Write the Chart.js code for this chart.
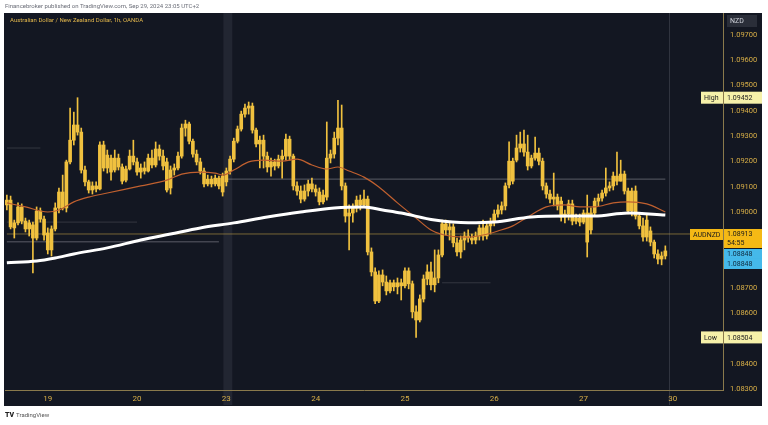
<!DOCTYPE html>
<html><head><meta charset="utf-8">
<script src="https://cdn.jsdelivr.net/npm/chart.js@4.4.0/dist/chart.umd.min.js"></script>
<style>
html,body{margin:0;padding:0;background:#fff;width:768px;height:425px;overflow:hidden;font-family:Roboto,"Liberation Sans",sans-serif}
#wrap{position:relative;width:768px;height:425px}
canvas{position:absolute;left:0;top:0}
#hdr{position:absolute;left:5px;top:2px;font-size:6px;color:#6b6e78;white-space:nowrap;z-index:2}
#ttl{position:absolute;left:10px;top:16px;font-size:6px;color:#e2b74c;white-space:nowrap;z-index:2}
#tv{position:absolute;left:5px;top:411px;font-size:6px;color:#555;white-space:nowrap;z-index:2}
#tv b{font-weight:900;color:#222;margin-right:2px;font-size:7px}
</style></head>
<body><div id="wrap">
<canvas id="c" width="768" height="425"></canvas>
<div id="hdr">Financebroker published on TradingView.com, Sep 29, 2024 23:05 UTC+2</div>
<div id="ttl">Australian Dollar / New Zealand Dollar, 1h, OANDA</div>
<div id="tv"><b>TV</b>TradingView</div>
</div>
<script>
// ---- data (AUDNZD 1h candles) ----
const open = [
1.09028,1.09047,1.08937,1.08957,1.09020,1.08964,1.08933,1.08949,1.08897,1.09004,
1.08972,1.08917,1.08850,1.08933,1.09016,1.09079,1.09016,1.09198,1.09284,1.09344,
1.09316,1.09166,1.09119,1.09087,1.09103,1.09091,1.09265,1.09174,1.09213,1.09166,
1.09213,1.09178,1.09126,1.09170,1.09221,1.09198,1.09158,1.09174,1.09162,1.09213,
1.09186,1.09249,1.09221,1.09198,1.09095,1.09166,1.09174,1.09221,1.09332,1.09348,
1.09280,1.09229,1.09198,1.09162,1.09111,1.09130,1.09111,1.09134,1.09142,1.09119,
1.09162,1.09209,1.09280,1.09328,1.09387,1.09411,1.09419,1.09324,1.09269,1.09284,
1.09221,1.09178,1.09198,1.09182,1.09209,1.09221,1.09288,1.09221,1.09103,1.09083,
1.09051,1.09083,1.09111,1.09091,1.09079,1.09040,1.09059,1.09213,1.09229,1.09292,
1.09332,1.09103,1.08984,1.08996,1.09016,1.09047,1.09028,1.09051,1.08842,1.08763,
1.08648,1.08751,1.08723,1.08688,1.08720,1.08704,1.08720,1.08708,1.08767,1.08716,
1.08605,1.08573,1.08656,1.08735,1.08763,1.08712,1.08739,1.08830,1.08953,1.08929,
1.08941,1.08878,1.08842,1.08889,1.08905,1.08897,1.08889,1.08905,1.08937,1.08905,
1.08945,1.08960,1.08992,1.09008,1.09024,1.09107,1.09201,1.09205,1.09253,1.09269,
1.09237,1.09182,1.09213,1.09233,1.09201,1.09103,1.09071,1.09051,1.09059,1.09043,
1.08980,1.08992,1.09032,1.08964,1.08976,1.08960,1.08996,1.08929,1.08996,1.09043,
1.09055,1.09075,1.09095,1.09103,1.09142,1.09122,1.09150,1.09083,1.09004,1.09083,
1.08984,1.08945,1.08901,1.08925,1.08881,1.08834,1.08814,1.08826];
const high = [
1.09067,1.09063,1.08968,1.09036,1.09032,1.08976,1.08968,1.08960,1.09020,1.09016,
1.08984,1.08937,1.08945,1.09036,1.09095,1.09146,1.09205,1.09411,1.09395,1.09452,
1.09332,1.09182,1.09126,1.09119,1.09119,1.09277,1.09280,1.09245,1.09225,1.09245,
1.09229,1.09190,1.09182,1.09245,1.09284,1.09213,1.09190,1.09198,1.09229,1.09245,
1.09277,1.09265,1.09245,1.09213,1.09182,1.09190,1.09237,1.09348,1.09363,1.09356,
1.09288,1.09245,1.09213,1.09174,1.09146,1.09142,1.09146,1.09142,1.09154,1.09174,
1.09221,1.09292,1.09340,1.09399,1.09427,1.09435,1.09431,1.09332,1.09300,1.09304,
1.09237,1.09213,1.09209,1.09225,1.09245,1.09308,1.09300,1.09229,1.09119,1.09103,
1.09107,1.09126,1.09134,1.09107,1.09095,1.09087,1.09356,1.09245,1.09316,1.09442,
1.09423,1.09115,1.09028,1.09032,1.09063,1.09067,1.09087,1.09063,1.08858,1.08779,
1.08767,1.08771,1.08747,1.08731,1.08731,1.08739,1.08735,1.08779,1.08779,1.08727,
1.08629,1.08672,1.08751,1.08791,1.08802,1.08850,1.08850,1.08968,1.08968,1.08960,
1.08953,1.08897,1.08905,1.08921,1.08929,1.08913,1.08921,1.08949,1.08968,1.08960,
1.08976,1.09008,1.09028,1.09040,1.09115,1.09277,1.09213,1.09304,1.09316,1.09324,
1.09304,1.09225,1.09296,1.09253,1.09213,1.09115,1.09087,1.09154,1.09071,1.09059,
1.09008,1.09047,1.09047,1.08992,1.08992,1.09008,1.09067,1.09016,1.09055,1.09071,
1.09087,1.09174,1.09119,1.09158,1.09237,1.09205,1.09162,1.09095,1.09095,1.09103,
1.08996,1.08976,1.08992,1.08941,1.08889,1.08850,1.08842,1.08866];
const low = [
1.09008,1.08933,1.08897,1.08949,1.08953,1.08921,1.08905,1.08759,1.08889,1.08960,
1.08889,1.08834,1.08826,1.08925,1.08996,1.09008,1.09000,1.09190,1.09265,1.09304,
1.09154,1.09103,1.09075,1.09071,1.09079,1.09087,1.09162,1.09154,1.09126,1.09158,
1.09166,1.09111,1.09119,1.09166,1.09186,1.09146,1.09134,1.09150,1.09158,1.09174,
1.09178,1.09205,1.09166,1.09079,1.09071,1.09146,1.09166,1.09213,1.09300,1.09269,
1.09217,1.09186,1.09150,1.09099,1.09103,1.09099,1.09103,1.09091,1.09063,1.09103,
1.09150,1.09198,1.09273,1.09320,1.09375,1.09387,1.09312,1.09257,1.09174,1.09174,
1.09158,1.09142,1.09166,1.09174,1.09134,1.09205,1.09205,1.09087,1.09067,1.09036,
1.09043,1.09063,1.09079,1.09063,1.09028,1.09032,1.09047,1.09194,1.09213,1.09265,
1.09087,1.08960,1.08850,1.08960,1.09000,1.09008,1.09020,1.08830,1.08747,1.08637,
1.08641,1.08708,1.08672,1.08680,1.08688,1.08676,1.08652,1.08700,1.08696,1.08581,
1.08504,1.08565,1.08644,1.08712,1.08692,1.08684,1.08720,1.08822,1.08909,1.08889,
1.08862,1.08826,1.08818,1.08850,1.08881,1.08874,1.08874,1.08889,1.08889,1.08893,
1.08913,1.08945,1.08980,1.08992,1.09008,1.09095,1.09111,1.09198,1.09237,1.09221,
1.09166,1.09174,1.09205,1.09186,1.09087,1.09055,1.09036,1.09024,1.09008,1.08964,
1.08957,1.08968,1.08949,1.08953,1.08945,1.08953,1.08822,1.08913,1.08984,1.09024,
1.09043,1.09063,1.09083,1.09087,1.09107,1.09122,1.09071,1.08992,1.08984,1.08972,
1.08933,1.08885,1.08885,1.08866,1.08818,1.08795,1.08791,1.08814];
const close = [
1.09047,1.08941,1.08957,1.09020,1.08964,1.08933,1.08957,1.08897,1.09004,1.08972,
1.08909,1.08850,1.08933,1.09016,1.09079,1.09016,1.09198,1.09284,1.09344,1.09316,
1.09166,1.09119,1.09087,1.09103,1.09091,1.09265,1.09174,1.09225,1.09158,1.09213,
1.09178,1.09122,1.09170,1.09221,1.09198,1.09158,1.09174,1.09162,1.09213,1.09186,
1.09249,1.09221,1.09182,1.09087,1.09166,1.09174,1.09221,1.09332,1.09348,1.09280,
1.09229,1.09198,1.09162,1.09111,1.09130,1.09111,1.09134,1.09103,1.09079,1.09162,
1.09209,1.09280,1.09328,1.09387,1.09411,1.09419,1.09324,1.09269,1.09284,1.09221,
1.09178,1.09198,1.09182,1.09209,1.09221,1.09288,1.09221,1.09103,1.09083,1.09051,
1.09083,1.09111,1.09091,1.09079,1.09040,1.09067,1.09213,1.09229,1.09292,1.09332,
1.09103,1.08984,1.08996,1.09016,1.09047,1.09028,1.09051,1.08842,1.08763,1.08648,
1.08751,1.08723,1.08688,1.08720,1.08704,1.08720,1.08708,1.08767,1.08716,1.08605,
1.08573,1.08656,1.08735,1.08763,1.08712,1.08739,1.08830,1.08953,1.08929,1.08941,
1.08878,1.08842,1.08889,1.08905,1.08897,1.08889,1.08905,1.08937,1.08905,1.08945,
1.08960,1.08992,1.09008,1.09024,1.09103,1.09201,1.09122,1.09253,1.09269,1.09237,
1.09182,1.09213,1.09233,1.09201,1.09103,1.09071,1.09051,1.09059,1.09024,1.08980,
1.08992,1.09032,1.08964,1.08976,1.08960,1.08996,1.08881,1.08996,1.09043,1.09055,
1.09075,1.09095,1.09103,1.09142,1.09122,1.09150,1.09083,1.09004,1.09083,1.08984,
1.08945,1.08901,1.08968,1.08881,1.08834,1.08814,1.08826,1.08846];

// moving averages (candle index -> value)
const slowMaIdx = [0,8,13,18,27,36,44,52,61,70,79,88,96,101,106,115,124,131,141,150,158,167,177];
const slowMaVal = [1.08799,1.08806,1.08818,1.08834,1.08858,1.08889,1.08913,1.08937,1.08957,1.08980,1.09000,1.09016,1.09020,1.09008,1.08996,1.08968,1.08957,1.08960,1.08980,1.08984,1.08984,1.08996,1.08988];
const fastMaIdx = [0,5,11,14,18,22,27,36,43,47,52,56,58,61,65,69,74,78,82,86,89,92,96,100,105,110,114,119,124,128,132,136,140,145,150,154,158,163,167,172,177];
const fastMaVal = [1.09036,1.09020,1.09000,1.09008,1.09040,1.09059,1.09075,1.09103,1.09126,1.09150,1.09158,1.09154,1.09146,1.09166,1.09198,1.09205,1.09201,1.09209,1.09186,1.09170,1.09178,1.09162,1.09138,1.09099,1.09036,1.08976,1.08929,1.08905,1.08901,1.08909,1.08925,1.08945,1.08980,1.09020,1.09028,1.09020,1.09020,1.09036,1.09040,1.09032,1.09000];

// horizontal drawings (price, from index, to index)
const levelPrice = [1.09130, 1.08882, 1.08960, 1.09253, 1.08720];
const levelFrom  = [59, 0, 0, 0, 117];
const levelTo    = [177, 57, 35, 9, 130];
const lastPrice = 1.08913;
const bidAsk = [1.08848, 1.08848];
const sessionHigh = 1.09452, sessionLow = 1.08504;

// time axis
const slotCount = 193;
const dayTicks  = [11,35,59,83,107,131,155,179];
const dayLabels = ["19","20","23","24","25","26","27","30"];
const boldDays  = ["23","30"];

// ---- build ----
const slots = Array.from({length: slotCount}, (_, i) => i);
function sparse(idx, val){ const a = new Array(slotCount).fill(null); idx.forEach((ix,k)=>{a[ix]=val[k];}); return a; }

const candleColor = '#f0c13f';
const datasets = [];
levelPrice.forEach((p,k)=>{
  datasets.push({type:'line', data: sparse([levelFrom[k], levelTo[k]], [p,p]), spanGaps:true,
    borderColor: k<2 ? 'rgba(150,152,160,0.55)' : 'rgba(150,152,160,0.25)', borderWidth:1, pointRadius:0, order:5});
});
datasets.push({type:'line', data: sparse([0, slotCount-1],[lastPrice,lastPrice]), spanGaps:true,
  borderColor:'rgba(200,165,70,0.55)', borderWidth:1, pointRadius:0, order:5});
datasets.push({type:'bar', data: slots.slice(0, open.length).map(i=>[low[i], high[i]]),
  backgroundColor:candleColor, barThickness:1, grouped:false, order:3});
datasets.push({type:'bar', data: slots.slice(0, open.length).map(i=>[Math.min(open[i],close[i]), Math.max(open[i],close[i])]),
  backgroundColor:candleColor, barThickness:3, minBarLength:1, grouped:false, order:2});
datasets.push({type:'line', data: sparse(fastMaIdx, fastMaVal), spanGaps:true, borderColor:'#c0602f',
  borderWidth:1.2, pointRadius:0, tension:0.4, cubicInterpolationMode:'monotone', order:1});
datasets.push({type:'line', data: sparse(slowMaIdx, slowMaVal), spanGaps:true, borderColor:'#ffffff',
  borderWidth:3, pointRadius:0, tension:0.4, cubicInterpolationMode:'monotone', order:0});

function drawBox(g, x, y, w, h, bg, text, color, font){
  g.fillStyle = bg; g.fillRect(x, y, w, h);
  g.fillStyle = color; g.font = font; g.textBaseline = 'middle'; g.textAlign = 'left';
  text.forEach((t,k)=>{ g.fillText(t, x + 3, y + (k + 0.5) * (h / text.length) + 0.5); });
}

const tvPlugin = {
  id: 'tv',
  beforeDraw(c){
    const g=c.ctx, x=c.scales.x, a=c.chartArea; g.save();
    g.fillStyle='#131722'; g.fillRect(4,13,758,393);
    const l=x.getPixelForValue(58.2), r=x.getPixelForValue(60.6);
    g.fillStyle='#222632'; g.fillRect(l, a.top, r-l, 405-a.top);
    const s=Math.round(x.getPixelForValue(178))+0.5;
    g.strokeStyle='#30343f'; g.lineWidth=1; g.beginPath(); g.moveTo(s,a.top); g.lineTo(s,405); g.stroke();
    g.restore();
  },
  afterDraw(c){
    const g=c.ctx, y=c.scales.y, a=c.chartArea; g.save();
    const f='7px Roboto, "Liberation Sans", sans-serif';
    const ax=a.right+1, aw=38;
    drawBox(g, ax+3, 15, 30, 12, '#2a2e39', ['NZD'], '#d1d4dc', f);
    let yy=y.getPixelForValue(sessionHigh);
    drawBox(g, a.right-22, yy-6, 22, 12, '#f6f1a9', ['High'], '#222', f);
    drawBox(g, ax, yy-6, aw, 12, '#f6f1a9', [sessionHigh.toFixed(5)], '#222', f);
    yy=y.getPixelForValue(sessionLow);
    drawBox(g, a.right-22, yy-6, 22, 12, '#f6f1a9', ['Low'], '#222', f);
    drawBox(g, ax, yy-6, aw, 12, '#f6f1a9', [sessionLow.toFixed(5)], '#222', f);
    yy=y.getPixelForValue(lastPrice);
    drawBox(g, a.right-33, yy-5, 33, 11, '#f5b915', ['AUDNZD'], '#1a1a1a', f);
    drawBox(g, ax, yy-5, aw, 19, '#f5b915', [lastPrice.toFixed(5), '54:55'], '#1a1a1a', f);
    let top = yy+15;
    bidAsk.forEach((p,k)=>{ drawBox(g, ax, top + k*10, aw, 10, '#45b9ea', [p.toFixed(5)], '#0f2a3d', f); });
    g.restore();
  }
};

new Chart(document.getElementById('c'), {
  type:'bar',
  data:{labels: slots, datasets},
  options:{
    responsive:false, animation:false, devicePixelRatio:1,
    layout:{padding:{left:5, top:13, right:6, bottom:20}},
    plugins:{legend:{display:false}, tooltip:{enabled:false}},
    scales:{
      x:{type:'category', offset:true, grid:{display:false, drawTicks:false},
        border:{display:true, color:'#8a7a4c'},
        ticks:{autoSkip:false, maxRotation:0, minRotation:0, padding:4, color:'#d7ae47',
          font:(ctx)=>{ const k=dayTicks.indexOf(ctx.index); const b = k>=0 && boldDays.includes(dayLabels[k]);
            return {size:8, weight: b ? 'bold' : 'normal', family:'Roboto, "Liberation Sans", sans-serif'}; },
          callback:(v,i)=>{ const k=dayTicks.indexOf(i); return k<0 ? null : dayLabels[k]; }},
        afterFit:(s)=>{ s.height=15; }},
      y:{position:'right', min:1.08296, max:1.09787, grid:{display:false, drawTicks:false},
        border:{display:true, color:'#8a7a4c'},
        ticks:{stepSize:0.001, includeBounds:false, padding:7, color:'#d7ae47',
          font:{size:7.5, family:'Roboto, "Liberation Sans", sans-serif'},
          callback:(v)=>Number(v).toFixed(5)},
        afterFit:(s)=>{ s.width=39; }}
    }
  },
  plugins:[tvPlugin]
});
</script>
</body></html>
